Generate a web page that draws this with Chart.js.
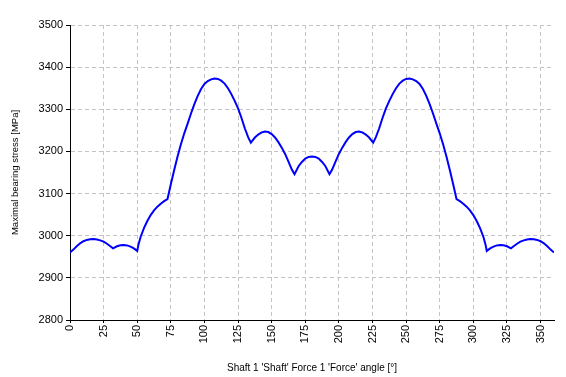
<!DOCTYPE html>
<html>
<head>
<meta charset="utf-8">
<script src="https://cdn.jsdelivr.net/npm/chart.js@4/dist/chart.umd.min.js"></script>
<style>
  html, body { margin: 0; padding: 0; background: #fff; }
  #wrap { width: 566px; height: 377px; position: relative; }
</style>
</head>
<body>
<div id="wrap"><canvas id="c" width="566" height="377"></canvas></div>
<script>
const angles = [
  0, 2.5, 5, 7.5, 10, 12.5, 15, 17.5, 20, 22.5, 25, 27.5, 30, 32, 35, 37.5, 40, 42.5, 45, 47.5,
  50, 51, 52.5, 55, 57.5, 60, 62.5, 65, 67.5, 70, 72.5, 75, 77.5, 80, 82.5, 85, 87.5, 90, 92.5, 95, 97.5,
  100, 102.5, 105, 107.5, 110, 112.5, 115, 117.5, 120, 122.5, 125, 127.5, 130, 132.5, 134.5, 137.5,
  140, 142.5, 145, 147.5, 150, 152.5, 155, 157.5, 160, 162.5, 165, 167, 170, 172.5, 175, 177.5, 180,
  182.5, 185, 187.5, 190, 193, 195, 197.5, 200, 202.5, 205, 207.5, 210, 212.5, 215, 217.5, 220,
  222.5, 225.5, 227.5, 230, 232.5, 235, 237.5, 240, 242.5, 245, 247.5, 250, 252.5, 255, 257.5, 260,
  262.5, 265, 267.5, 270, 272.5, 275, 277.5, 280, 282.5, 285, 287.5, 290, 292.5, 295, 297.5, 300,
  302.5, 305, 307.5, 309, 310, 312.5, 315, 317.5, 320, 322.5, 325, 328, 330, 332.5, 335, 337.5, 340,
  342.5, 345, 347.5, 350, 352.5, 355, 357.5, 360
];
const stress = [
  2960, 2967, 2975, 2982, 2987, 2990, 2991.5, 2992, 2991, 2989, 2986, 2981, 2975, 2970, 2975, 2977.5, 2978, 2977, 2974, 2970,
  2964, 2980, 2997, 3018, 3035, 3049, 3060, 3069, 3076, 3082, 3087, 3122, 3156, 3188, 3217, 3243, 3266, 3290, 3312, 3332, 3348,
  3360, 3367, 3371, 3373, 3372, 3368, 3361, 3350, 3336, 3320, 3302, 3280, 3255, 3234, 3221, 3233,
  3240, 3245, 3247, 3246, 3241, 3233, 3222, 3209, 3194, 3176, 3157, 3146, 3165, 3175, 3183, 3187, 3188,
  3187, 3183, 3175, 3165, 3146, 3157, 3176, 3194, 3209, 3222, 3233, 3241, 3246, 3247, 3245, 3240,
  3233, 3221, 3234, 3255, 3280, 3302, 3320, 3336, 3350, 3361, 3368, 3372, 3373, 3371, 3367, 3360,
  3348, 3332, 3312, 3290, 3266, 3243, 3217, 3188, 3156, 3122, 3087, 3082, 3076, 3069, 3060, 3049,
  3035, 3018, 2997, 2980, 2964, 2970, 2974, 2977, 2978, 2977.5, 2975, 2970, 2975, 2981, 2986, 2989, 2991,
  2992, 2991.5, 2990, 2987, 2982, 2975, 2967, 2960
];
const xTitle = "Shaft 1 'Shaft' Force 1 'Force' angle [°]";
const yTitle = "Maximal bearing stress [MPa]";
const xMin = 0, xMax = 360, xStep = 25;
const yMin = 2800, yMax = 3500, yStep = 100;

const points = angles.map((a, i) => ({ x: a, y: stress[i] }));
const FONT = "'Liberation Sans', Arial, sans-serif";

new Chart(document.getElementById('c'), {
  type: 'line',
  data: {
    datasets: [{
      data: points,
      borderColor: '#0000ff',
      borderWidth: 2,
      pointRadius: 0,
      tension: 0,
      fill: false
    }]
  },
  options: {
    responsive: false,
    animation: false,
    layout: { padding: { left: 0, top: 25, right: 12, bottom: 0 } },
    plugins: { legend: { display: false }, tooltip: { enabled: false } },
    scales: {
      x: {
        type: 'linear',
        min: xMin, max: xMax,
        afterFit: s => { s.height = 57; },
        ticks: {
          stepSize: xStep, includeBounds: false,
          minRotation: 90, maxRotation: 90, padding: 2,
          color: '#000', font: { family: FONT, size: 11 },
          callback: v => String(v)
        },
        grid: { color: '#c4c4c4', tickColor: '#000', tickLength: 3, lineWidth: 1 },
        border: { display: true, color: '#000', width: 1, dash: [4, 3] },
        title: {
          display: true, text: xTitle, color: '#000',
          font: { family: FONT, size: 10 }, padding: { top: 0, bottom: 3 }
        }
      },
      y: {
        type: 'linear',
        min: yMin, max: yMax,
        afterFit: s => { s.width = 70; },
        ticks: {
          stepSize: yStep, padding: 3,
          color: '#000', font: { family: FONT, size: 11 },
          callback: v => String(v)
        },
        grid: { color: '#c4c4c4', tickColor: '#000', tickLength: 4, lineWidth: 1 },
        border: { display: true, color: '#000', width: 1, dash: [4, 3] },
        title: {
          display: true, text: yTitle, color: '#000',
          font: { family: FONT, size: 9.5 }, padding: { top: 10, bottom: 0 }
        }
      }
    }
  }
});
</script>
</body>
</html>
